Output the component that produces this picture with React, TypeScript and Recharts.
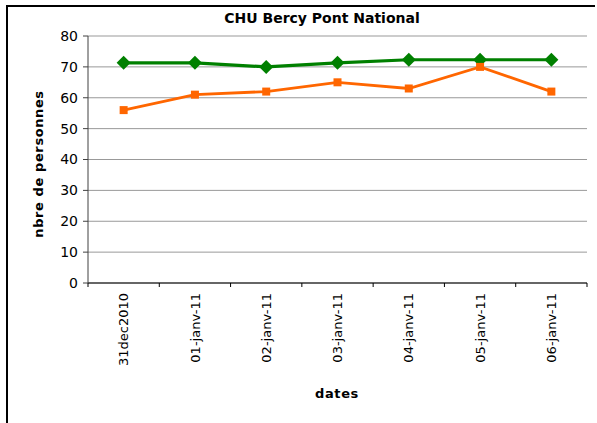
import React from 'react'
import { LineChart, Line, XAxis, YAxis, CartesianGrid } from 'recharts'

const dates = ['31dec2010', '01-janv-11', '02-janv-11', '03-janv-11', '04-janv-11', '05-janv-11', '06-janv-11']
const greenValues = [71.3, 71.3, 70, 71.3, 72.3, 72.3, 72.3]
const orangeValues = [56, 61, 62, 65, 63, 70, 62]
const yTicks = [0, 10, 20, 30, 40, 50, 60, 70, 80]

const FONT = '"DejaVu Sans", "Liberation Sans", Arial, sans-serif'
const W = 597
const H = 423
const PLOT_LEFT = 88
const PLOT_RIGHT = 587

const data = dates.map((d, i) => ({ date: d, green: greenValues[i], orange: orangeValues[i] }))

const bandWidth = (PLOT_RIGHT - PLOT_LEFT) / dates.length

const DateTick = (props: any) => {
  const { x, y, payload, index } = props
  const left = x - bandWidth / 2
  return (
    <g>
      <line x1={left} y1={y} x2={left} y2={y + 4} stroke="#000" />
      {index === dates.length - 1 && (
        <line x1={x + bandWidth / 2} y1={y} x2={x + bandWidth / 2} y2={y + 4} stroke="#000" />
      )}
      <text
        x={x}
        y={y + 10}
        transform={`rotate(-90, ${x}, ${y + 10})`}
        textAnchor="end"
        dy="0.36em"
        fontSize={13}
        fontFamily={FONT}
        fill="#000"
      >
        {payload.value}
      </text>
    </g>
  )
}

const diamond = (p: any) => {
  const { cx, cy, index } = p
  if (cx == null || cy == null) return <g key={`g-${index}`} />
  const r = 7
  return (
    <path
      key={`g-${index}`}
      d={`M${cx},${cy - r}L${cx + r},${cy}L${cx},${cy + r}L${cx - r},${cy}Z`}
      fill="#008000"
    />
  )
}

const square = (p: any) => {
  const { cx, cy, index } = p
  if (cx == null || cy == null) return <g key={`o-${index}`} />
  const s = 4
  return <rect key={`o-${index}`} x={cx - s} y={cy - s} width={s * 2} height={s * 2} fill="#ff6600" />
}

export default function App() {
  return (
    <div style={{ position: 'absolute', left: 0, top: 0, width: W, height: H, background: '#fff', overflow: 'hidden' }}>
      <div
        style={{
          position: 'absolute',
          left: 6,
          top: 5,
          width: 587,
          height: 430,
          borderLeft: '2px solid #000',
          borderTop: '2px solid #000',
        }}
      />
      <div style={{ position: 'absolute', left: 0, top: 0 }}>
        <LineChart width={W} height={H} data={data} margin={{ top: 36, right: 10, left: 28, bottom: 40 }}>
          <CartesianGrid vertical={false} stroke="#999" />
          <XAxis
            dataKey="date"
            scale="band"
            interval={0}
            height={100}
            tickLine={false}
            tickSize={0}
            tickMargin={0}
            axisLine={{ stroke: '#000' }}
            tick={<DateTick />}
          />
          <YAxis
            domain={[0, 80]}
            ticks={yTicks}
            width={60}
            tickSize={5}
            tickMargin={5}
            axisLine={{ stroke: '#404040' }}
            tickLine={{ stroke: '#404040' }}
            tick={{ fill: '#000', fontSize: 14, fontFamily: FONT }}
          />
          <YAxis
            yAxisId="r"
            orientation="right"
            domain={[0, 80]}
            width={0}
            tick={false}
            tickLine={false}
            axisLine={{ stroke: '#c0c0c0', strokeWidth: 2 }}
          />
          <Line
            dataKey="green"
            stroke="#008000"
            strokeWidth={3.2}
            dot={diamond}
            activeDot={false}
            isAnimationActive={false}
          />
          <Line
            dataKey="orange"
            stroke="#ff6600"
            strokeWidth={2.8}
            dot={square}
            activeDot={false}
            isAnimationActive={false}
          />
        </LineChart>
      </div>
      <svg width={W} height={H} style={{ position: 'absolute', left: 0, top: 0, pointerEvents: 'none' }}>
        <text x={322} y={23} textAnchor="middle" fontSize={14} fontWeight="bold" fontFamily={FONT} fill="#000">
          CHU Bercy Pont National
        </text>
        <text x={337} y={398} textAnchor="middle" fontSize={13} fontWeight="bold" letterSpacing={0.6} fontFamily={FONT} fill="#000">
          dates
        </text>
        <text
          x={43}
          y={164}
          transform="rotate(-90, 43, 164)"
          textAnchor="middle"
          fontSize={13}
          fontWeight="bold"
          letterSpacing={0.6}
          fontFamily={FONT}
          fill="#000"
        >
          nbre de personnes
        </text>
      </svg>
    </div>
  )
}
